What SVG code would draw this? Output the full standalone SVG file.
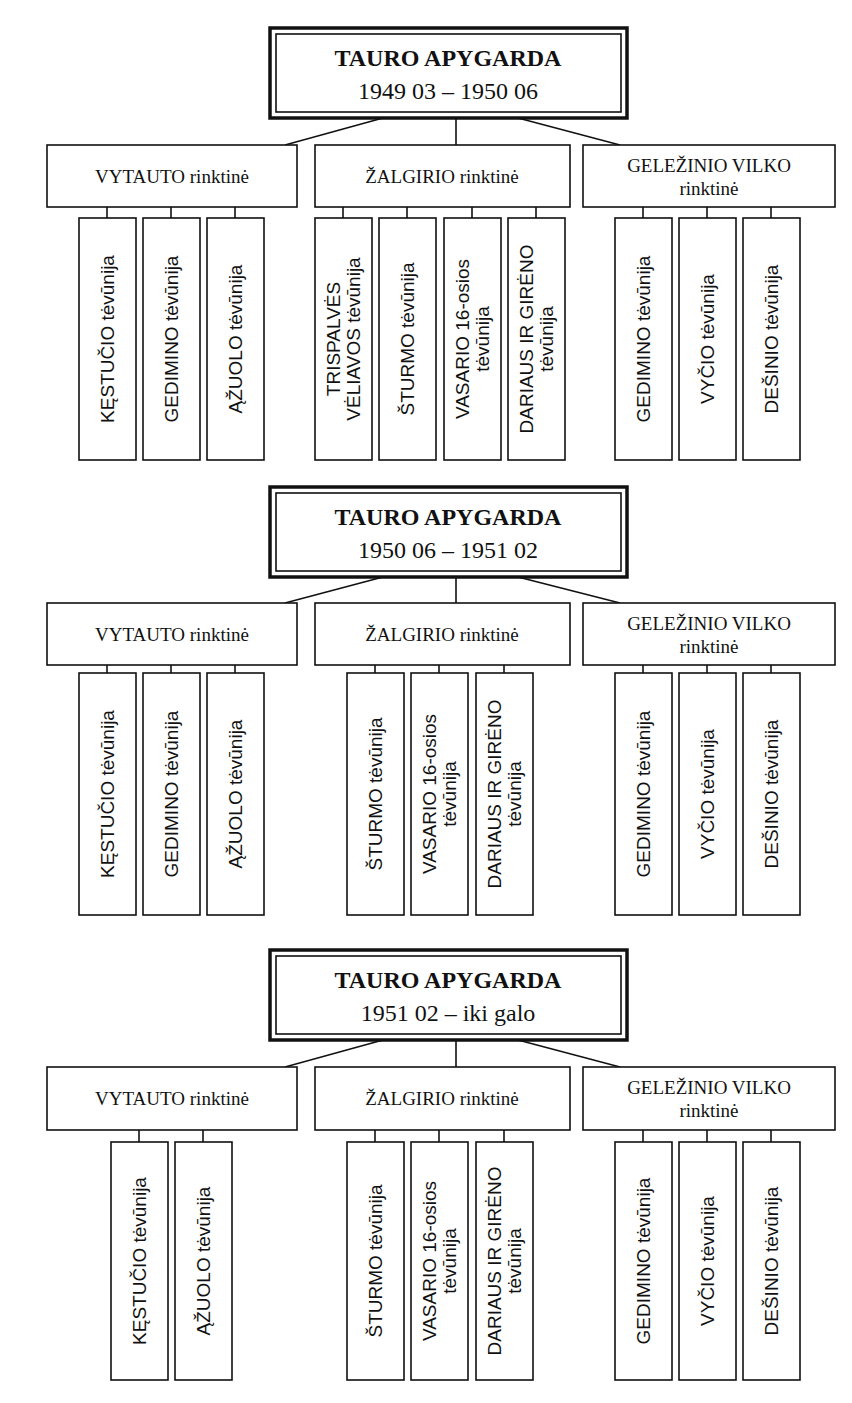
<svg xmlns="http://www.w3.org/2000/svg" width="852" height="1403" viewBox="0 0 852 1403">
<style>
rect{fill:#fff;stroke:#111;stroke-width:1.6}
.o{stroke-width:3.5}
.c line{stroke:#111;stroke-width:1.6}
.t{font-family:"Liberation Serif",serif;font-size:24px;text-anchor:middle;fill:#111}
.b{font-weight:bold}
.m{font-family:"Liberation Serif",serif;font-size:19px;text-anchor:middle;fill:#111}
.l{font-family:"Liberation Sans",sans-serif;font-size:19px;text-anchor:middle;fill:#111}
</style>
<rect width="852" height="1403" style="stroke:none"/>
<g class="c">
<line x1="383" y1="118" x2="285" y2="145"/><line x1="456" y1="118" x2="456" y2="145"/><line x1="518" y1="118" x2="620" y2="145"/>
<line x1="107" y1="207" x2="107" y2="218"/><line x1="171" y1="207" x2="171" y2="218"/><line x1="235" y1="207" x2="235" y2="218"/>
<line x1="343" y1="207" x2="343" y2="218"/><line x1="407" y1="207" x2="407" y2="218"/><line x1="472" y1="207" x2="472" y2="218"/><line x1="536" y1="207" x2="536" y2="218"/>
<line x1="643" y1="207" x2="643" y2="218"/><line x1="707" y1="207" x2="707" y2="218"/><line x1="771" y1="207" x2="771" y2="218"/>
<line x1="383" y1="577" x2="285" y2="603"/><line x1="456" y1="577" x2="456" y2="603"/><line x1="518" y1="577" x2="620" y2="603"/>
<line x1="107" y1="665" x2="107" y2="673"/><line x1="171" y1="665" x2="171" y2="673"/><line x1="235" y1="665" x2="235" y2="673"/>
<line x1="375" y1="665" x2="375" y2="673"/><line x1="439" y1="665" x2="439" y2="673"/><line x1="504" y1="665" x2="504" y2="673"/>
<line x1="643" y1="665" x2="643" y2="673"/><line x1="707" y1="665" x2="707" y2="673"/><line x1="771" y1="665" x2="771" y2="673"/>
<line x1="383" y1="1040" x2="285" y2="1067"/><line x1="456" y1="1040" x2="456" y2="1067"/><line x1="518" y1="1040" x2="620" y2="1067"/>
<line x1="139" y1="1130" x2="139" y2="1142"/><line x1="203" y1="1130" x2="203" y2="1142"/>
<line x1="375" y1="1130" x2="375" y2="1142"/><line x1="439" y1="1130" x2="439" y2="1142"/><line x1="504" y1="1130" x2="504" y2="1142"/>
<line x1="643" y1="1130" x2="643" y2="1142"/><line x1="707" y1="1130" x2="707" y2="1142"/><line x1="771" y1="1130" x2="771" y2="1142"/>
</g>

<g id="s1-top"><rect class="o" x="270" y="28" width="357" height="90"/><rect x="276" y="34" width="345" height="78"/><text class="t b" x="448" y="66">TAURO APYGARDA</text><text class="t" x="448" y="99">1949 03 – 1950 06</text></g>
<g id="s1-vyt"><rect x="47" y="145" width="250" height="62"/><text class="m" x="172" y="183">VYTAUTO rinktinė</text></g>
<g id="s1-zal"><rect x="315" y="145" width="255" height="62"/><text class="m" x="442" y="183">ŽALGIRIO rinktinė</text></g>
<g id="s1-gel"><rect x="583" y="145" width="252" height="62"/><text class="m" x="709" y="172">GELEŽINIO VILKO</text><text class="m" x="709" y="195">rinktinė</text></g>
<g id="s1-l1"><rect x="79" y="218" width="57" height="242"/><text class="l" transform="translate(114,339) rotate(-90)">KĘSTUČIO tėvūnija</text></g>
<g id="s1-l2"><rect x="143" y="218" width="57" height="242"/><text class="l" transform="translate(178,339) rotate(-90)">GEDIMINO tėvūnija</text></g>
<g id="s1-l3"><rect x="207" y="218" width="57" height="242"/><text class="l" transform="translate(242,339) rotate(-90)">ĄŽUOLO tėvūnija</text></g>
<g id="s1-l4"><rect x="315" y="218" width="57" height="242"/><text class="l" transform="translate(340,339) rotate(-90)">TRISPALVĖS</text><text class="l" transform="translate(360,339) rotate(-90)">VĖLIAVOS tėvūnija</text></g>
<g id="s1-l5"><rect x="379" y="218" width="57" height="242"/><text class="l" transform="translate(414,339) rotate(-90)">ŠTURMO tėvūnija</text></g>
<g id="s1-l6"><rect x="444" y="218" width="57" height="242"/><text class="l" transform="translate(469,339) rotate(-90)">VASARIO 16-osios</text><text class="l" transform="translate(489,339) rotate(-90)">tėvūnija</text></g>
<g id="s1-l7"><rect x="508" y="218" width="57" height="242"/><text class="l" transform="translate(533,339) rotate(-90)">DARIAUS IR GIRĖNO</text><text class="l" transform="translate(553,339) rotate(-90)">tėvūnija</text></g>
<g id="s1-l8"><rect x="615" y="218" width="57" height="242"/><text class="l" transform="translate(650,339) rotate(-90)">GEDIMINO tėvūnija</text></g>
<g id="s1-l9"><rect x="679" y="218" width="57" height="242"/><text class="l" transform="translate(714,339) rotate(-90)">VYČIO tėvūnija</text></g>
<g id="s1-l10"><rect x="743" y="218" width="57" height="242"/><text class="l" transform="translate(778,339) rotate(-90)">DEŠINIO tėvūnija</text></g>

<g id="s2-top"><rect class="o" x="270" y="487" width="357" height="90"/><rect x="276" y="493" width="345" height="78"/><text class="t b" x="448" y="525">TAURO APYGARDA</text><text class="t" x="448" y="558">1950 06 – 1951 02</text></g>
<g id="s2-vyt"><rect x="47" y="603" width="250" height="62"/><text class="m" x="172" y="641">VYTAUTO rinktinė</text></g>
<g id="s2-zal"><rect x="315" y="603" width="255" height="62"/><text class="m" x="442" y="641">ŽALGIRIO rinktinė</text></g>
<g id="s2-gel"><rect x="583" y="603" width="252" height="62"/><text class="m" x="709" y="630">GELEŽINIO VILKO</text><text class="m" x="709" y="653">rinktinė</text></g>
<g id="s2-l1"><rect x="79" y="673" width="57" height="242"/><text class="l" transform="translate(114,794) rotate(-90)">KĘSTUČIO tėvūnija</text></g>
<g id="s2-l2"><rect x="143" y="673" width="57" height="242"/><text class="l" transform="translate(178,794) rotate(-90)">GEDIMINO tėvūnija</text></g>
<g id="s2-l3"><rect x="207" y="673" width="57" height="242"/><text class="l" transform="translate(242,794) rotate(-90)">ĄŽUOLO tėvūnija</text></g>
<g id="s2-l4"><rect x="347" y="673" width="57" height="242"/><text class="l" transform="translate(382,794) rotate(-90)">ŠTURMO tėvūnija</text></g>
<g id="s2-l5"><rect x="411" y="673" width="57" height="242"/><text class="l" transform="translate(436,794) rotate(-90)">VASARIO 16-osios</text><text class="l" transform="translate(456,794) rotate(-90)">tėvūnija</text></g>
<g id="s2-l6"><rect x="476" y="673" width="57" height="242"/><text class="l" transform="translate(501,794) rotate(-90)">DARIAUS IR GIRĖNO</text><text class="l" transform="translate(521,794) rotate(-90)">tėvūnija</text></g>
<g id="s2-l7"><rect x="615" y="673" width="57" height="242"/><text class="l" transform="translate(650,794) rotate(-90)">GEDIMINO tėvūnija</text></g>
<g id="s2-l8"><rect x="679" y="673" width="57" height="242"/><text class="l" transform="translate(714,794) rotate(-90)">VYČIO tėvūnija</text></g>
<g id="s2-l9"><rect x="743" y="673" width="57" height="242"/><text class="l" transform="translate(778,794) rotate(-90)">DEŠINIO tėvūnija</text></g>

<g id="s3-top"><rect class="o" x="270" y="950" width="357" height="90"/><rect x="276" y="956" width="345" height="78"/><text class="t b" x="448" y="988">TAURO APYGARDA</text><text class="t" x="448" y="1021">1951 02 – iki galo</text></g>
<g id="s3-vyt"><rect x="47" y="1067" width="250" height="63"/><text class="m" x="172" y="1105">VYTAUTO rinktinė</text></g>
<g id="s3-zal"><rect x="315" y="1067" width="255" height="63"/><text class="m" x="442" y="1105">ŽALGIRIO rinktinė</text></g>
<g id="s3-gel"><rect x="583" y="1067" width="252" height="63"/><text class="m" x="709" y="1094">GELEŽINIO VILKO</text><text class="m" x="709" y="1117">rinktinė</text></g>
<g id="s3-l1"><rect x="111" y="1142" width="57" height="238"/><text class="l" transform="translate(146,1261) rotate(-90)">KĘSTUČIO tėvūnija</text></g>
<g id="s3-l2"><rect x="175" y="1142" width="57" height="238"/><text class="l" transform="translate(210,1261) rotate(-90)">ĄŽUOLO tėvūnija</text></g>
<g id="s3-l3"><rect x="347" y="1142" width="57" height="238"/><text class="l" transform="translate(382,1261) rotate(-90)">ŠTURMO tėvūnija</text></g>
<g id="s3-l4"><rect x="411" y="1142" width="57" height="238"/><text class="l" transform="translate(436,1261) rotate(-90)">VASARIO 16-osios</text><text class="l" transform="translate(456,1261) rotate(-90)">tėvūnija</text></g>
<g id="s3-l5"><rect x="476" y="1142" width="57" height="238"/><text class="l" transform="translate(501,1261) rotate(-90)">DARIAUS IR GIRĖNO</text><text class="l" transform="translate(521,1261) rotate(-90)">tėvūnija</text></g>
<g id="s3-l6"><rect x="615" y="1142" width="57" height="238"/><text class="l" transform="translate(650,1261) rotate(-90)">GEDIMINO tėvūnija</text></g>
<g id="s3-l7"><rect x="679" y="1142" width="57" height="238"/><text class="l" transform="translate(714,1261) rotate(-90)">VYČIO tėvūnija</text></g>
<g id="s3-l8"><rect x="743" y="1142" width="57" height="238"/><text class="l" transform="translate(778,1261) rotate(-90)">DEŠINIO tėvūnija</text></g>
</svg>
